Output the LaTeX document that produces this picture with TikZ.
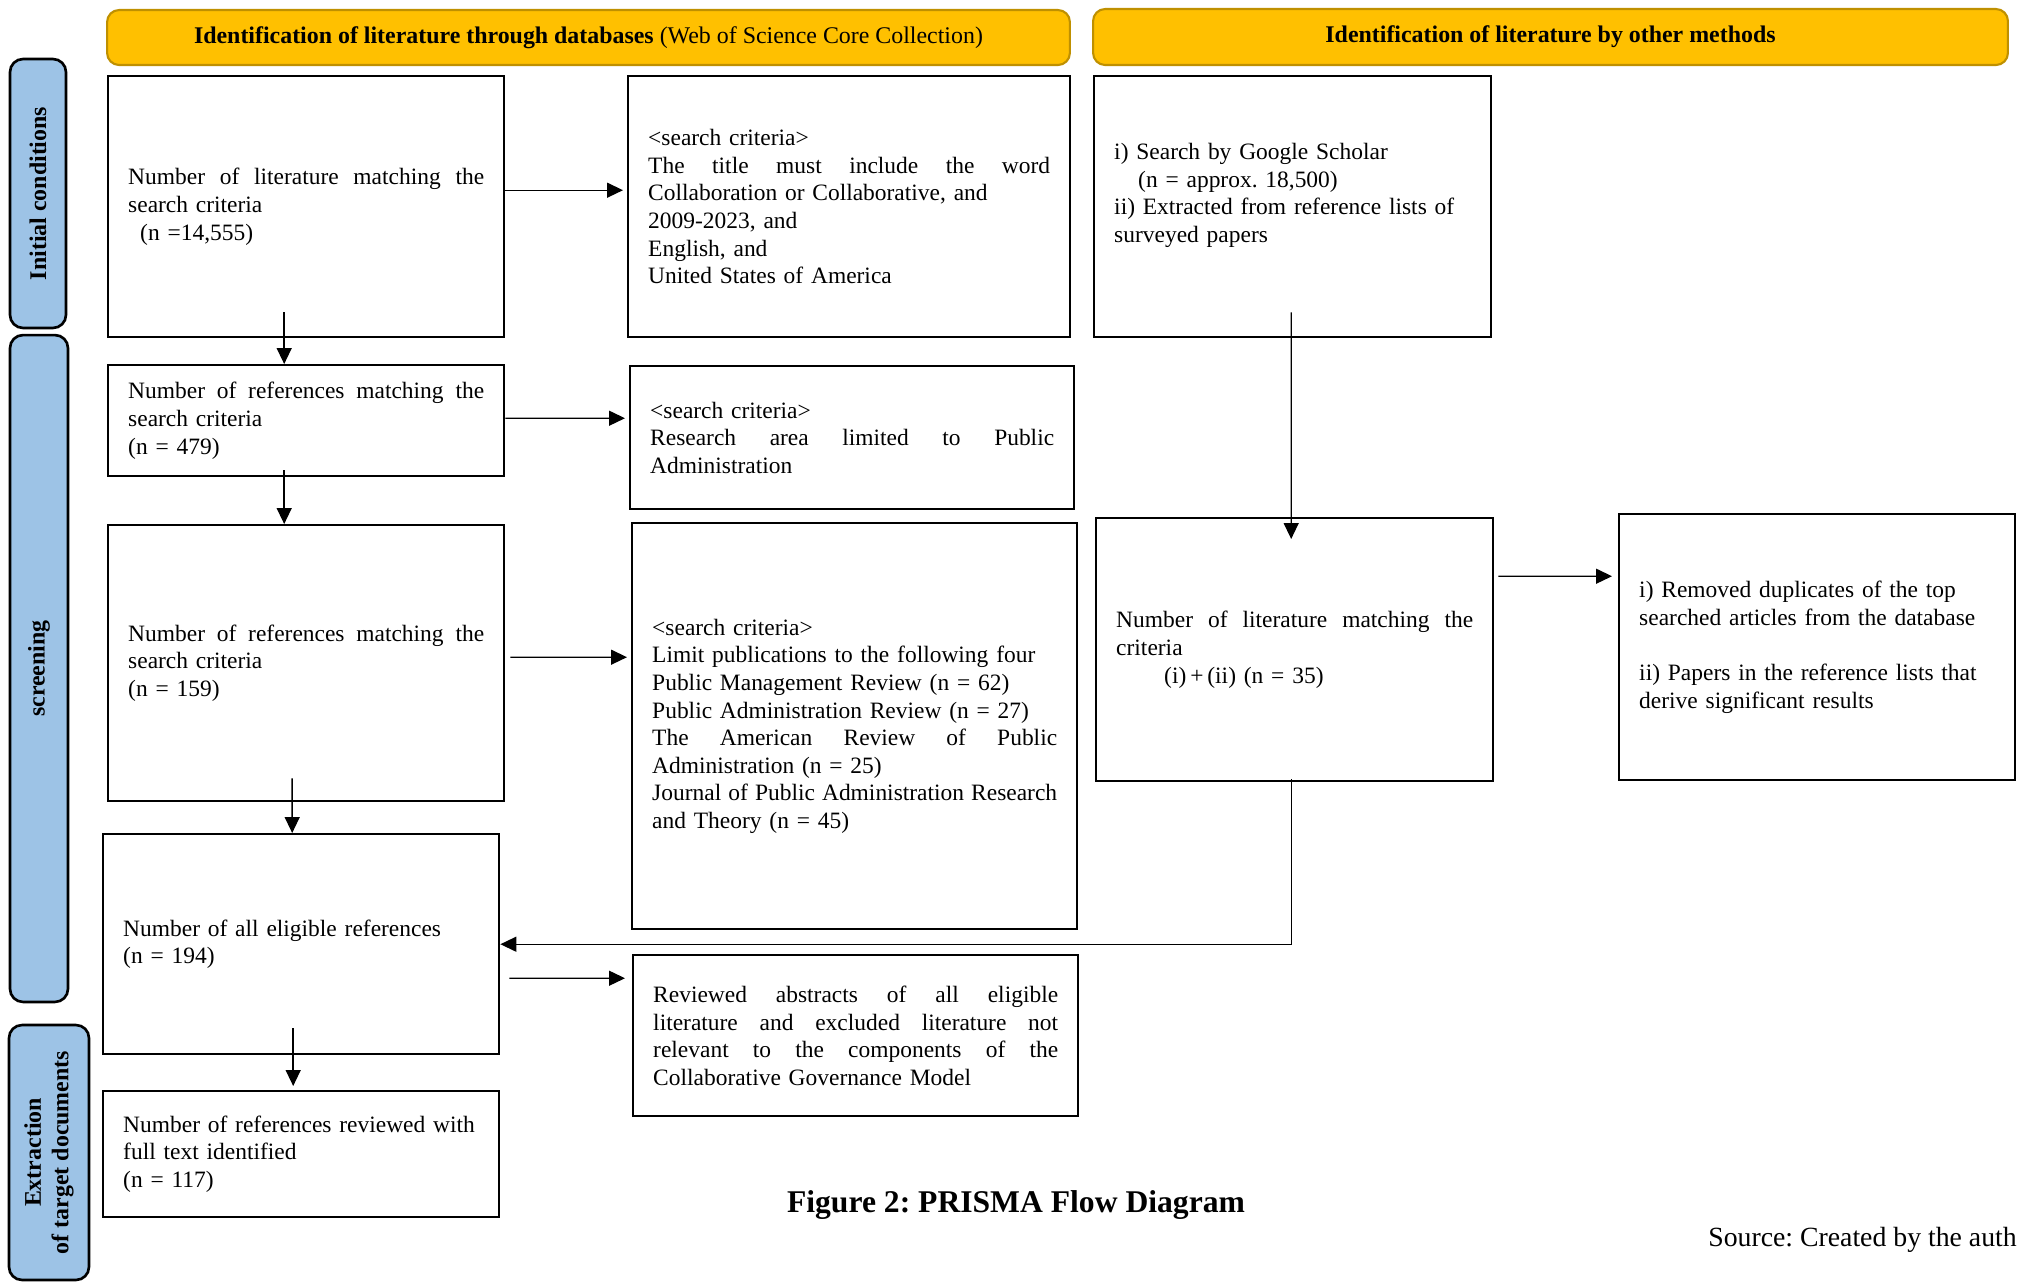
\documentclass[tikz,border=0pt]{standalone}
\usepackage{fontspec}
\setmainfont{Liberation Serif}
\usepackage{xcolor}
\usetikzlibrary{arrows.meta,calc,positioning}
\frenchspacing

\definecolor{hdrgold}{HTML}{FFC000}
\definecolor{hdredge}{HTML}{BF9000}
\definecolor{phaseblue}{HTML}{9DC3E6}

\newcommand{\fullline}[1]{\makebox[\hsize][s]{\spaceskip=0pt\xspaceskip=0pt\relax #1}}

\begin{document}
\begin{tikzpicture}[x=0.02cm,y=-0.02cm,>={Triangle[length=0.32cm,width=0.3cm]},font=\fontsize{13.35}{15.7}\selectfont]
\tikzstyle{box}=[draw,line width=1.4pt,anchor=north west,inner xsep=0.4cm,inner ysep=0pt]
\tikzstyle{hdr}=[draw=hdredge,fill=hdrgold,line width=1.2pt,rounded corners=0.24cm,font=\fontsize{13.6}{15.7}\selectfont]
\tikzstyle{phase}=[draw,fill=phaseblue,line width=1.5pt,rounded corners=0.26cm,rotate=90,align=center,font=\fontsize{13.6}{15.7}\selectfont\bfseries]
\useasboundingbox (0,0) rectangle (2018,1282);

% headers and phases
\node[hdr,minimum width=19.26cm,minimum height=1.10cm] (hdb) at (588.5,37.5) {\textbf{Identification of literature through databases} (Web of Science Core Collection)};
\node[hdr,minimum width=18.30cm,minimum height=1.12cm] (hoth) at (1550.5,37) {\textbf{Identification of literature by other methods}};
\node[phase,minimum width=5.38cm,minimum height=1.12cm] (ph1) at (38,193.5) {Initial conditions};
\node[phase,minimum width=13.34cm,minimum height=1.16cm] (ph2) at (39,668.5) {screening};
\node[phase,minimum width=5.10cm,minimum height=1.60cm] (ph3) at (49,1152.5) {Extraction\\of target documents};

% database column
\node[box,text width=7.12cm,minimum height=5.22cm] (lit) at (107,75) {\fullline{Number of literature matching the}\\search criteria\\\hspace*{0.24cm}(n =14,555)};
\node[box,text width=7.12cm,minimum height=2.22cm] (refs1) at (107,364) {\fullline{Number of references matching the}\\search criteria\\(n = 479)};
\node[box,text width=7.12cm,minimum height=5.52cm] (refs2) at (107,524) {\fullline{Number of references matching the}\\search criteria\\(n = 159)};
\node[box,text width=7.12cm,minimum height=4.40cm] (elig) at (102,833) {Number of all eligible references\\(n = 194)};
\node[box,text width=7.12cm,minimum height=2.52cm] (full) at (102,1090) {Number of references reviewed with\\full text identified\\(n = 117)};

% criteria column
\node[box,text width=8.04cm,minimum height=5.22cm] (crit1) at (627,75) {<search criteria>\\\fullline{The title must include the word}\\Collaboration or Collaborative, and\\2009-2023, and\\English, and\\United States of America};
\node[box,text width=8.08cm,minimum height=2.86cm] (crit2) at (629,365) {<search criteria>\\\fullline{Research area limited to Public}\\Administration};
\node[box,text width=8.10cm,minimum height=8.12cm] (crit3) at (631,522) {<search criteria>\\Limit publications to the following four\\Public Management Review (n = 62)\\Public Administration Review (n = 27)\\\fullline{The American Review of Public}\\Administration (n = 25)\\\fullline{Journal of Public Administration Research}\\and Theory (n = 45)};
\node[box,text width=8.10cm,minimum height=3.22cm] (abstr) at (632,954) {\fullline{Reviewed abstracts of all eligible}\\\fullline{literature and excluded literature not}\\\fullline{relevant to the components of the}\\Collaborative Governance Model};

% other methods
\node[box,text width=7.14cm,minimum height=5.22cm] (other) at (1093,75) {i) Search by Google Scholar\\\hspace*{0.48cm}(n = approx. 18,500)\\ii) Extracted from reference lists of\\surveyed papers\\\mbox{}};
\node[box,text width=7.14cm,minimum height=5.26cm] (match) at (1095,517) {\fullline{Number of literature matching the}\\criteria\\\hspace*{0.96cm}(i)\,+\,(ii) (n = 35)};
\node[box,text width=7.12cm,minimum height=5.32cm] (dupl) at (1618,513) {i) Removed duplicates of the top\\searched articles from the database\\[15.7pt]ii) Papers in the reference lists that\\derive significant results};

% caption
\node[font=\fontsize{18}{21}\selectfont\bfseries] (cap) at (1016,1205) {Figure 2: PRISMA Flow Diagram};
\node[anchor=west,inner sep=0pt,font=\fontsize{15.8}{18}\selectfont] (src) at (1708,1240) {Source: Created by the auth};

% arrows
\draw[->,thick,shorten >=0.08cm] ([yshift=0.33cm]lit.east) -- ([yshift=0.33cm]crit1.west);
\draw[->,thick,shorten >=0.08cm] ([yshift=0.05cm]refs1.east) -- ([yshift=0.39cm]crit2.west);
\draw[->,thick,shorten <=0.1cm,shorten >=0.08cm] ([yshift=0.12cm]refs2.east) -- ([yshift=1.38cm]crit3.west);
\draw[->,thick,shorten <=0.18cm,shorten >=0.14cm] ([yshift=-0.68cm]elig.east) -- ([yshift=1.15cm]abstr.west);
\draw[->,thick,shorten <=0.08cm,shorten >=0.12cm] ([yshift=1.47cm]match.east) -- ([yshift=1.42cm]dupl.west);
\draw[->,thick] ([shift={(-0.44cm,0.52cm)}]lit.south) -- ([xshift=-0.44cm]refs1.north);
\draw[->,thick] ([shift={(-0.44cm,0.14cm)}]refs1.south) -- ([xshift=-0.44cm]refs2.north);
\draw[->,thick] ([shift={(-0.28cm,0.48cm)}]refs2.south) -- ([xshift=-0.18cm]elig.north);
\draw[->,thick,shorten >=0.08cm] ([shift={(-0.16cm,0.54cm)}]elig.south) -- ([xshift=-0.16cm]full.north);
\draw[->,thick] ([shift={(-0.03cm,0.52cm)}]other.south) -- ([shift={(-0.07cm,-0.44cm)}]match.north);
\draw[->,thick] ([shift={(-0.07cm,0.06cm)}]match.south) |- (elig.east);
\end{tikzpicture}
\end{document}
